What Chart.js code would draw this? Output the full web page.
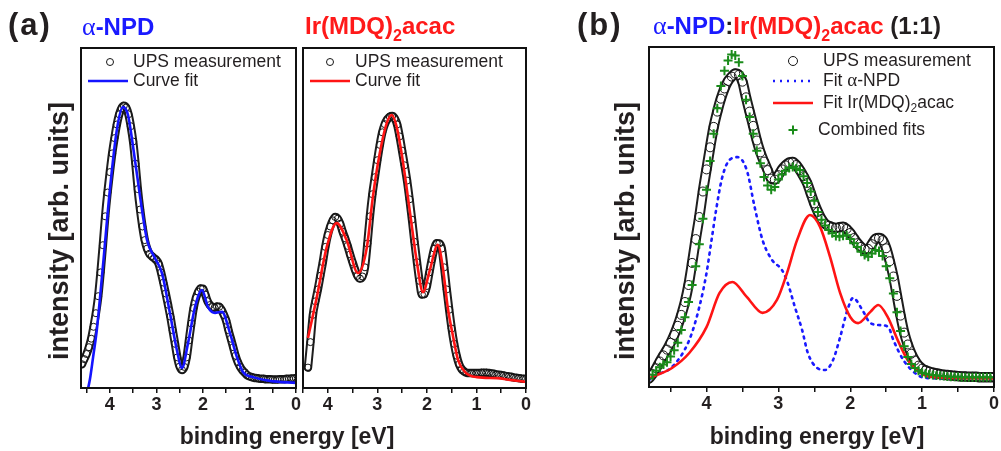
<!DOCTYPE html>
<html>
<head>
<meta charset="utf-8">
<script src="https://cdn.jsdelivr.net/npm/chart.js@4.4.0/dist/chart.umd.min.js"></script>
<style>
  body { margin:0; width:1001px; height:451px; background:#fff; position:relative; overflow:hidden;
         font-family:"Liberation Sans", Arial, sans-serif; color:#231f20; }
  canvas { position:absolute; left:0; top:0; }
  .t { position:absolute; font-weight:bold; white-space:nowrap; line-height:30px; }
  .big { font-size:31px; letter-spacing:2px; }
  .head { font-size:24px; }
  .alpha { font-family:"Liberation Serif", serif; font-weight:normal; font-size:26px; }
  .sub { font-size:16px; position:relative; top:7px; }
  .blue { color:#1a1aff; }
  .red { color:#ff1a1a; }
  .xt { font-size:23px; width:300px; text-align:center; }
  .yt { font-size:27px; width:340px; text-align:center; transform:rotate(-90deg); }
</style>
</head>
<body>
<canvas id="chartA1" width="1001" height="451"></canvas>
<canvas id="chartA2" width="1001" height="451"></canvas>
<canvas id="chartB" width="1001" height="451"></canvas>

<div class="t big" style="left:8px;top:10px;">(a)</div>
<div class="t head blue" style="left:82px;top:12px;"><span class="alpha">α</span>-NPD</div>
<div class="t head red" style="left:305px;top:11px;">Ir(MDQ)<span class="sub">2</span>acac</div>
<div class="t big" style="left:577px;top:10px;">(b)</div>
<div class="t head" style="left:653px;top:11px;"><span class="blue"><span class="alpha">α</span>-NPD</span>:<span class="red">Ir(MDQ)<span class="sub">2</span>acac</span> (1:1)</div>

<div class="t yt" style="left:-111px;top:216px;">intensity [arb. units]</div>
<div class="t yt" style="left:455px;top:216px;">intensity [arb. units]</div>
<div class="t xt" style="left:137px;top:421px;">binding energy [eV]</div>
<div class="t xt" style="left:667px;top:421px;">binding energy [eV]</div>

<script>
// binding energy grid of the UPS measurements (eV)
var energy = [4.80,4.75,4.70,4.65,4.60,4.55,4.50,4.45,4.40,4.35,4.30,4.25,4.20,4.15,4.10,4.05,4.00,3.95,3.90,3.85,
  3.80,3.75,3.70,3.65,3.60,3.55,3.50,3.45,3.40,3.35,3.30,3.25,3.20,3.15,3.10,3.05,3.00,2.95,2.90,2.85,
  2.80,2.75,2.70,2.65,2.60,2.55,2.50,2.45,2.40,2.35,2.30,2.25,2.20,2.15,2.10,2.05,2.00,1.95,1.90,1.85,
  1.80,1.75,1.70,1.65,1.60,1.55,1.50,1.45,1.40,1.35,1.30,1.25,1.20,1.15,1.10,1.05,1.00,0.95,0.90,0.85,
  0.80,0.75,0.70,0.65,0.60,0.55,0.50,0.45,0.40,0.35,0.30,0.25,0.20,0.15,0.10,0.05,0.00];

// (a) alpha-NPD
var upsNpd = [null,null,null,null,
  7.0,8.5,10.0,12.0,14.5,18.0,22.0,27.0,34.0,42.0,
  50.5,57.5,63.5,69.0,73.5,77.5,80.5,82.3,83.0,82.5,
  80.5,77.0,72.5,66.0,58.5,52.5,47.5,43.5,41.0,39.5,
  38.8,38.2,37.6,36.5,34.0,31.0,27.8,24.5,21.0,17.0,
  13.0,9.0,6.3,5.3,6.2,9.0,14.0,19.0,23.5,26.5,
  28.3,29.3,29.2,27.5,25.5,24.4,23.8,23.6,24.0,23.9,
  23.0,21.5,19.8,17.0,14.5,12.0,9.5,7.6,6.2,5.2,
  4.5,3.8,3.4,3.2,3.0,2.9,2.8,2.7,2.7,2.6,
  2.6,2.6,2.5,2.5,2.5,2.6,2.6,2.6,2.7,2.7,
  2.8,2.8,2.9];
var fitNpdE = [4.50,4.43,4.36,4.28,4.15,4.00,3.85,3.72,3.61,3.50,3.35,3.20,3.03,2.88,2.71,2.56,2.45,2.32,2.17,2.02,
  1.89,1.74,1.59,1.42,1.27,1.14,0.92,0.56,0.00];
var fitNpd = [-2,2.4,9.1,17.1,35.6,58.2,75.9,82.6,80.3,70.9,56.2,43.5,38.2,33.8,22.1,11.2,5.9,13.2,23.8,28.8,
  23.8,22.1,22.4,16.2,9.1,4.7,3.2,2.1,1.5];

// (a) Ir(MDQ)2acac
var upsIr = [null,null,null,null,null,null,null,null,
  6.0,13.5,21.5,25.5,29.0,33.0,37.0,41.5,45.0,47.5,
  49.3,50.3,49.8,48.3,46.0,44.0,41.8,39.3,37.0,34.8,
  33.0,32.2,32.8,35.5,42.5,50.5,57.0,62.0,67.0,71.5,
  75.2,77.6,79.0,79.8,80.0,79.3,77.5,74.0,69.8,65.5,
  61.0,55.5,49.5,43.0,37.0,31.5,27.5,27.6,30.0,34.0,
  37.8,41.0,42.6,42.5,41.0,35.5,29.0,23.0,17.5,13.0,
  9.5,7.0,5.6,4.9,4.5,4.4,4.4,4.4,4.4,4.4,
  4.5,4.5,4.5,4.4,4.3,4.2,4.0,3.9,3.8,3.7,
  3.5,3.4,3.3,3.1,3.0,2.9,2.8,2.7,2.7];
var fitIrE = [4.40,4.22,4.02,3.82,3.62,3.39,3.21,3.09,2.95,2.81,2.71,2.61,2.48,2.34,2.20,2.08,1.94,1.78,1.68,1.58,
  1.47,1.37,1.23,0.99,0.59,0.32,0.00];
var fitIr = [14.7,26.8,41.5,48.5,43.5,33.8,41.5,56.2,69.1,77.9,80.3,76.8,66.2,51.5,36.8,28.2,34.7,42.1,35.6,23.8,
  15.0,8.2,4.7,3.2,2.9,2.4,1.8];

// (b) 1:1 blend
var upsMix = [2.5,3.8,5.5,7.5,9.3,11.0,13.0,15.3,18.0,21.2,
  25.0,30.0,36.5,43.5,50.0,57.5,64.0,70.5,76.5,81.0,
  84.8,87.8,90.0,91.3,92.2,91.8,89.8,85.2,81.0,76.8,
  72.5,69.0,66.3,63.8,61.3,61.0,62.3,64.0,65.2,66.0,
  66.2,65.3,63.8,62.0,60.0,57.0,54.0,51.5,49.4,48.0,
  47.4,47.0,46.8,47.0,47.1,46.5,45.3,43.8,42.3,41.2,
  40.5,40.6,42.0,43.6,43.8,43.2,40.8,37.0,32.5,26.8,
  21.0,16.0,12.5,9.8,7.8,6.3,5.4,4.9,4.5,4.2,
  4.0,3.8,3.6,3.5,3.4,3.3,3.2,3.1,3.1,3.0,
  3.0,3.0,2.9,2.9,2.9,2.9,2.9];
var combMix = [2.5,3.6,4.8,5.8,6.6,7.3,9.0,10.8,13.0,16.8,
  20.5,25.0,30.0,35.5,42.0,49.5,58.0,66.5,74.5,82.0,
  88.5,93.0,96.0,97.8,97.5,95.5,91.5,84.5,79.4,74.5,
  69.5,65.8,61.8,59.3,58.0,58.8,61.0,62.5,63.6,64.4,
  64.7,64.3,63.8,62.0,60.0,57.5,54.8,51.5,49.2,47.5,
  46.2,45.2,44.4,44.2,44.5,44.6,43.5,42.3,41.2,39.8,
  38.8,38.3,39.3,40.3,40.0,38.5,35.5,32.0,27.5,22.0,
  16.5,12.0,8.8,6.8,5.6,4.8,4.2,3.9,3.7,3.5,
  3.4,3.3,3.2,3.1,3.0,3.0,3.0,2.9,2.9,2.9,
  2.9,2.9,2.9,2.9,2.9,2.9,2.9];
var fitMixNpdE = [4.80,4.76,4.48,4.24,4.10,4.00,3.93,3.86,3.79,3.71,3.57,3.44,3.33,3.22,3.09,2.95,2.87,2.77,2.67,2.59,
  2.46,2.35,2.24,2.14,2.04,1.96,1.83,1.72,1.58,1.47,1.40,1.26,1.06,0.92,0.50,0.00];
var fitMixNpd = [2.0,2.9,5.9,13.8,23.5,33.5,43.2,52.9,60.9,65.9,67.6,63.8,52.9,43.2,37.4,34.4,30.6,23.5,16.8,10.0,
  5.6,5.0,7.9,14.7,22.6,26.2,22.6,18.8,18.2,17.6,13.8,7.9,3.5,2.6,2.5,2.5];
var fitMixIrE = [4.80,4.76,4.48,4.24,4.00,3.82,3.64,3.44,3.22,3.02,2.88,2.74,2.56,2.42,2.28,2.14,2.00,1.89,1.72,1.61,
  1.48,1.34,1.20,1.02,0.84,0.40,0.00];
var fitMixIr = [2.5,2.9,5.6,10.0,17.6,27.6,30.9,26.5,21.8,25.6,33.5,43.2,50.6,47.1,38.2,27.6,20.6,18.8,22.1,24.1,
  20.6,13.8,7.9,4.1,2.9,2.6,2.5];

[upsNpd, upsIr, upsMix, combMix].forEach(function(s) {
  if (s.length !== energy.length) throw new Error("series length " + s.length);
});

function pts(xs, ys) {
  var out = [];
  for (var i = 0; i < xs.length; i++) {
    if (ys[i] !== null) out.push({ x: xs[i], y: ys[i] });
  }
  return out;
}

var ink = "#231f20";
var font = '"Liberation Sans", Arial, sans-serif';

var frame = {
  id: "frame",
  afterDatasetsDraw: function(chart) {
    var a = chart.chartArea, c = chart.ctx;
    c.save();
    c.strokeStyle = "#111";
    c.lineWidth = 2;
    c.strokeRect(a.left, a.top, a.right - a.left, a.bottom - a.top);
    c.restore();
  }
};

// legend drawn inside the frame, like the original figure
var insideLegend = {
  id: "insideLegend",
  afterDraw: function(chart, args, opts) {
    var c = chart.ctx;
    (opts.items || []).forEach(function(it) {
      var ds = chart.data.datasets[it.ds];
      c.save();
      c.strokeStyle = ds.borderColor;
      c.lineWidth = ds.borderWidth;
      if (it.line) {
        c.setLineDash(ds.borderDash || []);
        c.beginPath();
        c.moveTo(it.line[0], it.y);
        c.lineTo(it.line[1], it.y);
        c.stroke();
        c.setLineDash([]);
      } else {
        c.fillStyle = ds.backgroundColor;
        Chart.helpers.drawPoint(c, { pointStyle: ds.pointStyle, radius: ds.pointRadius, borderWidth: ds.borderWidth, rotation: 0 }, it.mx, it.y);
      }
      var x = it.tx;
      c.fillStyle = ink;
      c.textBaseline = "middle";
      it.text.forEach(function(seg) {
        c.font = seg.f || ("17.5px " + font);
        c.fillText(seg.t, x, it.y + (seg.sub ? 6 : 0));
        x += c.measureText(seg.t).width;
      });
      c.restore();
    });
  }
};

function xAxis(max) {
  return {
    type: "linear",
    reverse: true,
    min: 0,
    max: max,
    afterFit: function(scale) { scale.height = 40; },
    border: { display: false },
    grid: { drawOnChartArea: false, drawTicks: true, tickLength: 5, color: "#111", lineWidth: 1.5 },
    ticks: {
      stepSize: 0.5,
      includeBounds: false,
      autoSkip: false,
      maxRotation: 0,
      padding: 1,
      color: ink,
      font: { family: font, size: 18, weight: "bold" },
      callback: function(v) { return Number.isInteger(v) ? String(v) : ""; }
    }
  };
}

function baseOptions(max, padding, legendItems) {
  return {
    responsive: false,
    animation: false,
    events: [],
    layout: { padding: padding },
    scales: {
      x: xAxis(max),
      y: { display: false, min: 0, max: 100 }
    },
    plugins: {
      legend: { display: false },
      tooltip: { enabled: false },
      insideLegend: { items: legendItems }
    }
  };
}

// dense open circles of the measurement: the markers plus the band they form
function circles(data, r) {
  return { label: "UPS measurement", data: data, pointStyle: "circle", pointRadius: r, borderWidth: 1,
           borderColor: "#151515", backgroundColor: "rgba(0,0,0,0)", showLine: false, order: 5 };
}
function band(data, w, color, order) {
  return { label: "", data: data, showLine: true, pointRadius: 0, borderWidth: w, borderColor: color,
           tension: 0.4, cubicInterpolationMode: "monotone", borderJoinStyle: "round", borderCapStyle: "round", order: order };
}
function curve(label, data, color, dash, order) {
  return { label: label, data: data, showLine: true, pointRadius: 0, borderColor: color, backgroundColor: color,
           borderWidth: 2.6, borderDash: dash || [], tension: 0.4, cubicInterpolationMode: "monotone",
           borderCapStyle: dash ? "round" : "butt", order: order };
}

var a1Data = pts(energy, upsNpd);
new Chart(document.getElementById("chartA1"), {
  type: "scatter",
  data: { datasets: [
    circles(a1Data, 3.5),
    curve("Curve fit", pts(fitNpdE, fitNpd), "#1414ff", null, 1),
    band(a1Data, 8.5, "#1e1e1e", 7),
    band(a1Data, 4.5, "#ffffff", 6)
  ] },
  options: baseOptions(4.62, { left: 81, top: 48, right: 705, bottom: 23 }, [
    { ds: 0, mx: 110, y: 62, tx: 133, text: [{ t: "UPS measurement" }] },
    { ds: 1, line: [88, 128], y: 81, tx: 133, text: [{ t: "Curve fit" }] }
  ]),
  plugins: [frame, insideLegend]
});

var a2Data = pts(energy, upsIr);
new Chart(document.getElementById("chartA2"), {
  type: "scatter",
  data: { datasets: [
    circles(a2Data, 3.5),
    curve("Curve fit", pts(fitIrE, fitIr), "#ff1414", null, 1),
    band(a2Data, 8.5, "#1e1e1e", 7),
    band(a2Data, 4.5, "#ffffff", 6)
  ] },
  options: baseOptions(4.5, { left: 303, top: 48, right: 475, bottom: 23 }, [
    { ds: 0, mx: 330, y: 62, tx: 355, text: [{ t: "UPS measurement" }] },
    { ds: 1, line: [310, 350], y: 81, tx: 355, text: [{ t: "Curve fit" }] }
  ]),
  plugins: [frame, insideLegend]
});

var bData = pts(energy, upsMix);
new Chart(document.getElementById("chartB"), {
  type: "scatter",
  data: { datasets: [
    circles(bData, 4.5),
    curve("Fit α-NPD", pts(fitMixNpdE, fitMixNpd), "#1a1aff", [2, 5], 3),
    curve("Fit Ir(MDQ)2acac", pts(fitMixIrE, fitMixIr), "#ff1414", null, 2),
    { label: "Combined fits", data: pts(energy, combMix), pointStyle: "cross", pointRadius: 4.5, borderWidth: 2,
      borderColor: "#1a8c1a", backgroundColor: "#1a8c1a", showLine: false, order: 0 },
    band(bData, 10.5, "#1e1e1e", 7),
    band(bData, 6.5, "#ffffff", 6)
  ] },
  options: baseOptions(4.8, { left: 649, top: 47, right: 7, bottom: 24 }, [
    { ds: 0, mx: 793, y: 61, tx: 823, text: [{ t: "UPS measurement" }] },
    { ds: 1, line: [773, 813], y: 81, tx: 823, text: [{ t: "Fit " }, { t: "α", f: '19px "Liberation Serif", serif' }, { t: "-NPD" }] },
    { ds: 2, line: [773, 813], y: 103, tx: 823, text: [{ t: "Fit Ir(MDQ)" }, { t: "2", f: "12px " + font, sub: true }, { t: "acac" }] },
    { ds: 3, mx: 793, y: 130, tx: 818, text: [{ t: "Combined fits" }] }
  ]),
  plugins: [frame, insideLegend]
});
</script>
</body>
</html>
